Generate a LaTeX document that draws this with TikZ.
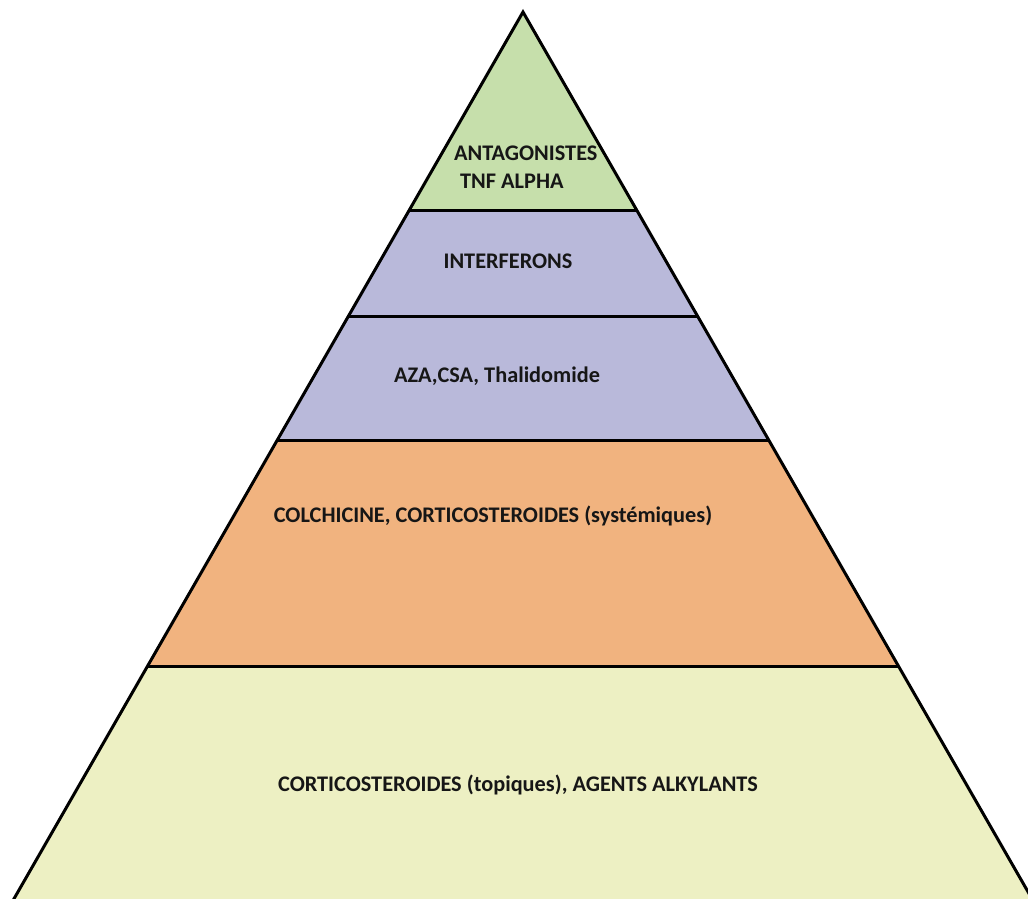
\documentclass[tikz,border=0pt]{standalone}
\usepackage{fontspec}
\setmainfont{Carlito}
\definecolor{layerA}{HTML}{C6DFAB}
\definecolor{layerB}{HTML}{B9B9DA}
\definecolor{layerC}{HTML}{F1B37F}
\definecolor{layerD}{HTML}{EDF0C3}
\definecolor{ink}{HTML}{161616}
\begin{document}
\begin{tikzpicture}[x=1pt,y=-1pt,
  edge/.style={line width=3pt,draw=black,line join=miter},
  sep/.style={line width=3pt,draw=black},
  lbl/.style={font=\fontsize{22.3}{26}\selectfont\bfseries,text=ink,inner sep=0pt}]
\useasboundingbox (0,0) rectangle (1028,898);
\clip (0,0) rectangle (1028,898);
\def\s{0.574}
\def\cx{523}
\def\ay{12}
% level coordinates
\foreach \n/\yy in {a/210,b/316,c/440,d/666,e/905}{
  \coordinate (L\n) at ({\cx-\s*(\yy-\ay)},\yy);
  \coordinate (R\n) at ({\cx+\s*(\yy-\ay)},\yy);
}
\coordinate (apex) at (\cx,\ay);
% fills
\fill[layerA] (apex) -- (Ra) -- (La) -- cycle;
\fill[layerB] (La) -- (Ra) -- (Rc) -- (Lc) -- cycle;
\fill[layerC] (Lc) -- (Rc) -- (Rd) -- (Ld) -- cycle;
\fill[layerD] (Ld) -- (Rd) -- (Re) -- (Le) -- cycle;
% separators
\draw[sep] (La) -- (Ra);
\draw[sep] (Lb) -- (Rb);
\draw[sep] (Lc) -- (Rc);
\draw[sep] (Ld) -- (Rd);
% outline
\draw[edge] (Le) -- (apex) -- (Re);
% labels
\node[lbl,anchor=west] (t1) at (454,153) {ANTAGONISTES};
\node[lbl,anchor=west] (t2) at (460,181) {TNF ALPHA};
\node[lbl] (t3) at (508,261) {INTERFERONS};
\node[lbl] (t4) at (497,376) {AZA,CSA, Thalidomide};
\node[lbl] (t5) at (493,516) {COLCHICINE, CORTICOSTEROIDES (systémiques)};
\node[lbl] (t6) at (518,785) {CORTICOSTEROIDES (topiques), AGENTS ALKYLANTS};
\end{tikzpicture}
\end{document}
